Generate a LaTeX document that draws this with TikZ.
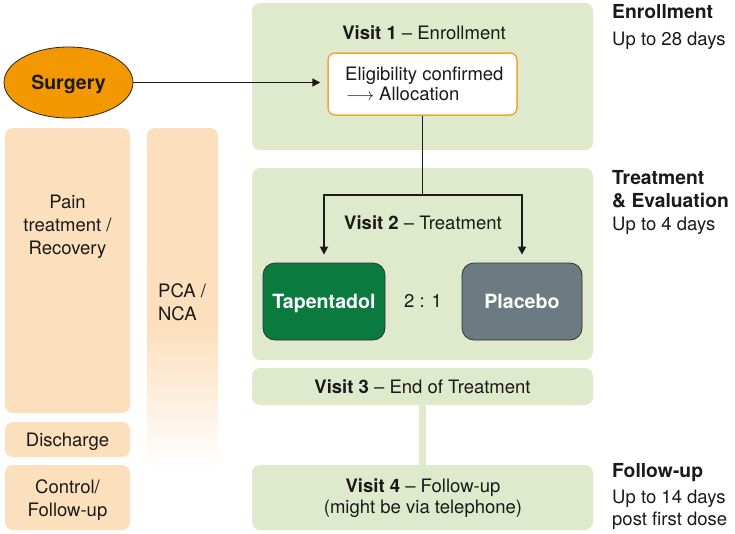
\documentclass[tikz,border=0pt]{standalone}
\usepackage{fontspec}
\setmainfont{TeX Gyre Heros}
\usetikzlibrary{shapes.geometric,arrows.meta}
\definecolor{lgreen}{HTML}{DEEACB}
\definecolor{peach}{HTML}{FCDFBC}
\definecolor{surg}{HTML}{F39800}
\definecolor{eligor}{HTML}{F0A53A}
\definecolor{tapg}{HTML}{0A7A3E}
\definecolor{plac}{HTML}{6C7B82}
\definecolor{txtk}{HTML}{1A1A1A}
\begin{document}
\begin{tikzpicture}[x=1pt,y=-1pt,
  txt/.style={font=\fontsize{18.5}{23}\selectfont, text=txtk, inner sep=0pt},
  btxt/.style={font=\fontsize{19.3}{23}\selectfont\bfseries, text=txtk, inner sep=0pt},
  gbox/.style={fill=lgreen, rounded corners=8pt, minimum width=341pt, inner sep=0pt},
  pbox/.style={fill=peach, rounded corners=8pt, minimum width=125pt, inner sep=0pt},
  drug/.style={draw=black!80, line width=0.8pt, rounded corners=12pt, inner sep=0pt,
    minimum height=77pt, text=white, font=\fontsize{19.6}{22}\selectfont\bfseries,
    text height=13.5pt, text depth=0pt},
  arr/.style={line width=1.5pt, draw=txtk, -{Triangle[length=8pt,width=8pt]}},
  conn/.style={line width=1.5pt, draw=txtk}
]
\useasboundingbox (0,0) rectangle (735,533);

% left orange column
\node[pbox, minimum height=285pt] (pain) at (67.5,270.5) {};
\node[txt, anchor=base] (painA) at (67.5,208) {Pain};
\node[txt, anchor=base] (painB) at (67.5,231) {treatment /};
\node[txt, anchor=base] (painC) at (67.5,254) {Recovery};
\node[pbox, minimum height=35pt, txt, text height=13pt, text depth=0pt] (disch) at (67.5,439.5) {Discharge};
\node[pbox, minimum height=65pt] (ctrl) at (67.5,497.5) {};
\node[txt, anchor=base] (ctrlA) at (67.5,493) {Control/};
\node[txt, anchor=base] (ctrlB) at (67.5,516) {Follow-up};

% PCA column with fade
\fill[peach, rounded corners=8pt] (147,335) -- (147,128) -- (218,128) -- (218,335) -- cycle;
\shade[top color=peach, bottom color=white] (147,325) rectangle (218,470);
\node[txt, anchor=base west] (pcaA) at (158,297) {PCA /};
\node[txt, anchor=base west] (pcaB) at (158,320) {NCA};

% surgery
\node[ellipse, draw=black!85, line width=0.8pt, fill=surg, minimum width=129pt, minimum height=71pt,
  inner sep=0pt, font=\fontsize{19.5}{22}\selectfont\bfseries, text=txtk, text height=13.5pt, text depth=0pt] (surgery) at (68.5,82.5) {Surgery};

% green visit boxes
\node[gbox, minimum height=147pt] (v1) at (422.5,76.5) {};
\node[txt, anchor=base] (v1t) at (424,39) {\textbf{Visit 1} – Enrollment};
\node[draw=eligor, line width=1.5pt, fill=white, rounded corners=7pt, minimum width=189pt, minimum height=62pt, inner sep=0pt] (elig) at (422.5,84) {};
\node[txt, anchor=base west] (eligA) at (345,80) {Eligibility confirmed};
\node[txt, anchor=base west] (eligB) at (346,100) {$\longrightarrow$ Allocation};

\node[gbox, minimum height=192pt] (v2) at (422.5,264) {};
\node[txt, anchor=base] (v2t) at (423,229) {\textbf{Visit 2} – Treatment};
\node[drug, fill=tapg, minimum width=122pt] (tap) at (324,301.5) {Tapentadol};
\node[drug, fill=plac, minimum width=120pt] (placebo) at (522,301.5) {Placebo};
\node[txt, anchor=base] (ratio) at (423,307) {2 : 1};

\node[gbox, minimum height=37pt, txt, text height=13pt, text depth=0pt] (v3) at (422.5,386.5) {\textbf{Visit 3} – End of Treatment};
\node[gbox, minimum height=65pt] (v4) at (422.5,497.5) {};
\node[txt, anchor=base] (v4a) at (423,492) {\textbf{Visit 4} – Follow-up};
\node[txt, anchor=base] (v4b) at (423,513) {(might be via telephone)};

% connectors
\draw[arr, shorten >=7pt] (surgery.east) -- (surgery.east -| elig.west);
\coordinate (split) at (422.5,195);
\draw[conn] (elig.south) -- (split);
\draw[arr, shorten >=8pt] (split) -| (tap.north);
\draw[arr, shorten >=8pt] (split) -| (placebo.north);
\draw[lgreen, line width=7pt] (v3.south) -- (v4.north);

% right labels
\node[btxt, anchor=base west] (enA) at (612,18) {Enrollment};
\node[txt, anchor=base west] (enB) at (612,45) {Up to 28 days};
\node[btxt, anchor=base west] (trA) at (612,184) {Treatment};
\node[btxt, anchor=base west] (trB) at (612,207) {\& Evaluation};
\node[txt, anchor=base west] (trC) at (612,230) {Up to 4 days};
\node[btxt, anchor=base west] (fuA) at (612,477) {Follow-up};
\node[txt, anchor=base west] (fuB) at (612,503) {Up to 14 days};
\node[txt, anchor=base west] (fuC) at (612,525) {post first dose};
\end{tikzpicture}
\end{document}
